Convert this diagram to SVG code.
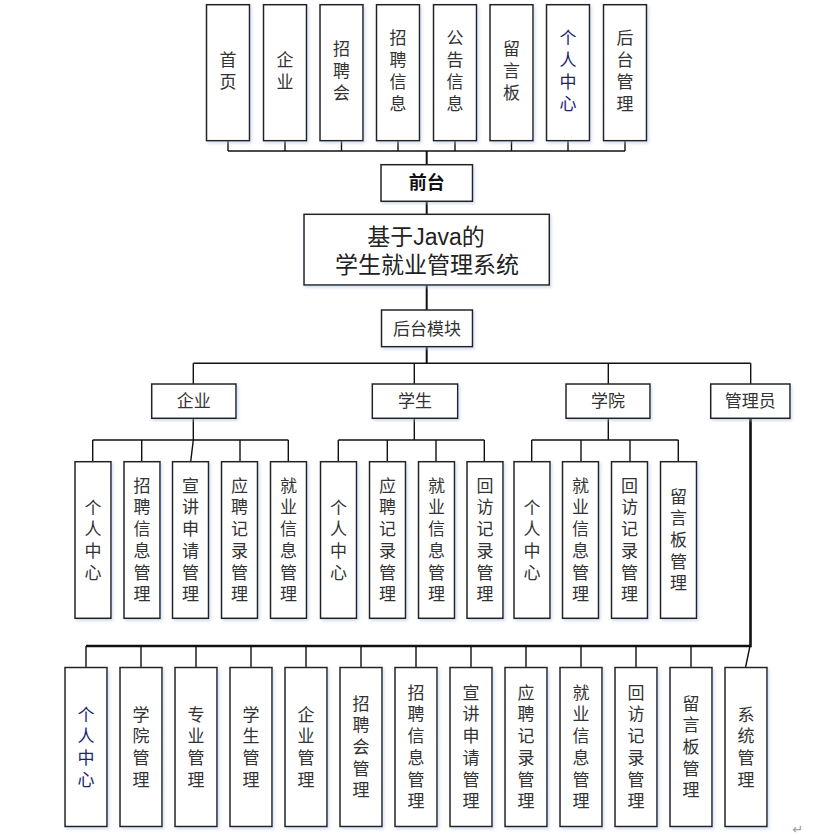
<svg xmlns="http://www.w3.org/2000/svg" width="833" height="836" viewBox="0 0 833 836">
<defs>
<filter id="sh" x="-20%" y="-10%" width="140%" height="120%">
<feDropShadow dx="1.5" dy="2" stdDeviation="1.5" flood-color="#9fb6e0" flood-opacity="0.45"/>
</filter>
<style>
.b{fill:#fff;stroke:#222;stroke-width:1.5;filter:url(#sh)}
.c{fill:none;stroke:#111;stroke-width:1.4}
.t{font-family:"Liberation Sans","Noto Sans CJK SC",sans-serif;font-size:17px;fill:#333;text-anchor:middle}
.n{fill:#1c2470}
.q{font-weight:bold;font-size:18px;fill:#111}
.big{font-size:23px;fill:#222}
</style>
</defs>
<rect width="833" height="836" fill="#fff"/>
<g id="connectors">
<path class="c" d="M228 140.7V151M285 140.7V151M341.5 140.7V151M398 140.7V151M455 140.7V151M511.5 140.7V151M568 140.7V151M625 140.7V151M228 151H625"/>
<path class="c" style="stroke-width:2" d="M426.7 151V164.7M426.7 201.3V214.3M426.7 285V310M426.7 346.7V363.3"/>
<path class="c" d="M193.3 363.3H750.7M193.3 363.3V384M414.3 363.3V384M608.3 363.3V384M750.7 363.3V384"/>
<path class="c" d="M193.3 418.3V440M92.7 440H288.3M92.7 440V461.7M141.7 440V461.7M193.3 440L190.7 461.7M240 440V461.7M288.3 440V461.7"/>
<path class="c" d="M414.3 418.3V440M338.3 440H484.3M338.3 440V461.7M387.3 440V461.7M436 440V461.7M484.3 440V461.7"/>
<path class="c" d="M608.3 418.3V440M531.7 440H678.3M531.7 440V461.7M581 440V461.7M630 440V461.7M678.3 440V461.7"/>
<path class="c" style="stroke-width:2.6" d="M750.5 418.3V646H86"/>
<path class="c" d="M86 646V667.5M141 646V667.5M196 646V667.5M251 646V667.5M306 646V667.5M361 646V667.5M416 646V667.5M471 646V667.5M526 646V667.5M581 646V667.5M636 646V667.5M691 646V667.5M750 646L745.5 667.5"/>
</g>
<g id="top-nodes">
<g id="n-shouye"><rect class="b" x="206.5" y="4.7" width="43" height="136"/><text class="t" y="66.2"><tspan x="228">首</tspan><tspan x="228" dy="21.7">页</tspan></text></g>
<g id="n-qiye"><rect class="b" x="263.5" y="4.7" width="43" height="136"/><text class="t" y="66.2"><tspan x="285">企</tspan><tspan x="285" dy="21.7">业</tspan></text></g>
<g id="n-zhaopinhui"><rect class="b" x="320" y="4.7" width="43" height="136"/><text class="t" y="55.3"><tspan x="341.5">招</tspan><tspan x="341.5" dy="21.7">聘</tspan><tspan x="341.5" dy="21.7">会</tspan></text></g>
<g id="n-zhaopinxinxi"><rect class="b" x="376.5" y="4.7" width="43" height="136"/><text class="t" y="44.4"><tspan x="398">招</tspan><tspan x="398" dy="21.7">聘</tspan><tspan x="398" dy="21.7">信</tspan><tspan x="398" dy="21.7">息</tspan></text></g>
<g id="n-gonggao"><rect class="b" x="433.5" y="4.7" width="43" height="136"/><text class="t" y="44.4"><tspan x="455">公</tspan><tspan x="455" dy="21.7">告</tspan><tspan x="455" dy="21.7">信</tspan><tspan x="455" dy="21.7">息</tspan></text></g>
<g id="n-liuyan"><rect class="b" x="490" y="4.7" width="43" height="136"/><text class="t" y="55.3"><tspan x="511.5">留</tspan><tspan x="511.5" dy="21.7">言</tspan><tspan x="511.5" dy="21.7">板</tspan></text></g>
<g id="n-geren"><rect class="b" x="546.5" y="4.7" width="43" height="136"/><text class="t n" y="44.4"><tspan x="568">个</tspan><tspan x="568" dy="21.7">人</tspan><tspan x="568" dy="21.7">中</tspan><tspan x="568" dy="21.7">心</tspan></text></g>
<g id="n-houtai"><rect class="b" x="603.5" y="4.7" width="43" height="136"/><text class="t" y="44.4"><tspan x="625">后</tspan><tspan x="625" dy="21.7">台</tspan><tspan x="625" dy="21.7">管</tspan><tspan x="625" dy="21.7">理</tspan></text></g>
</g>
<g id="n-qiantai"><rect class="b" x="381" y="164.7" width="91.5" height="36.6"/><text class="t q" x="426.7" y="189">前台</text></g>
<g id="n-title"><rect class="b" x="304" y="214.3" width="245.3" height="70.7"/><text class="t big" x="426" y="244.5">基于Java的</text><text class="t big" x="427" y="273">学生就业管理系统</text></g>
<g id="n-houtaimokuai"><rect class="b" x="381.5" y="310" width="91" height="36.7"/><text class="t" x="427" y="334.5">后台模块</text></g>
<g id="roles">
<g id="n-r-qiye"><rect class="b" x="151.7" y="384" width="84.3" height="34.3"/><text class="t" x="193.8" y="407">企业</text></g>
<g id="n-r-xuesheng"><rect class="b" x="372.3" y="384" width="85.4" height="34.3"/><text class="t" x="415" y="407">学生</text></g>
<g id="n-r-xueyuan"><rect class="b" x="566" y="384" width="84" height="34.3"/><text class="t" x="608" y="407">学院</text></g>
<g id="n-r-admin"><rect class="b" x="710.7" y="384" width="79.3" height="34.3"/><text class="t" x="750.3" y="407">管理员</text></g>
</g>
<g id="mid-nodes">
<g id="q1"><rect class="b" x="75" y="461.7" width="36" height="156.6"/><text class="t" y="513.5"><tspan x="93">个</tspan><tspan x="93" dy="21.7">人</tspan><tspan x="93" dy="21.7">中</tspan><tspan x="93" dy="21.7">心</tspan></text></g>
<g id="q2"><rect class="b" x="124" y="461.7" width="36" height="156.6"/><text class="t" y="491.7"><tspan x="142">招</tspan><tspan x="142" dy="21.7">聘</tspan><tspan x="142" dy="21.7">信</tspan><tspan x="142" dy="21.7">息</tspan><tspan x="142" dy="21.7">管</tspan><tspan x="142" dy="21.7">理</tspan></text></g>
<g id="q3"><rect class="b" x="172.5" y="461.7" width="36" height="156.6"/><text class="t" y="491.7"><tspan x="190.5">宣</tspan><tspan x="190.5" dy="21.7">讲</tspan><tspan x="190.5" dy="21.7">申</tspan><tspan x="190.5" dy="21.7">请</tspan><tspan x="190.5" dy="21.7">管</tspan><tspan x="190.5" dy="21.7">理</tspan></text></g>
<g id="q4"><rect class="b" x="221.5" y="461.7" width="36" height="156.6"/><text class="t" y="491.7"><tspan x="239.5">应</tspan><tspan x="239.5" dy="21.7">聘</tspan><tspan x="239.5" dy="21.7">记</tspan><tspan x="239.5" dy="21.7">录</tspan><tspan x="239.5" dy="21.7">管</tspan><tspan x="239.5" dy="21.7">理</tspan></text></g>
<g id="q5"><rect class="b" x="270.5" y="461.7" width="36" height="156.6"/><text class="t" y="491.7"><tspan x="288.5">就</tspan><tspan x="288.5" dy="21.7">业</tspan><tspan x="288.5" dy="21.7">信</tspan><tspan x="288.5" dy="21.7">息</tspan><tspan x="288.5" dy="21.7">管</tspan><tspan x="288.5" dy="21.7">理</tspan></text></g>
<g id="s1"><rect class="b" x="320.5" y="461.7" width="36" height="156.6"/><text class="t" y="513.5"><tspan x="338.5">个</tspan><tspan x="338.5" dy="21.7">人</tspan><tspan x="338.5" dy="21.7">中</tspan><tspan x="338.5" dy="21.7">心</tspan></text></g>
<g id="s2"><rect class="b" x="369.5" y="461.7" width="36" height="156.6"/><text class="t" y="491.7"><tspan x="387.5">应</tspan><tspan x="387.5" dy="21.7">聘</tspan><tspan x="387.5" dy="21.7">记</tspan><tspan x="387.5" dy="21.7">录</tspan><tspan x="387.5" dy="21.7">管</tspan><tspan x="387.5" dy="21.7">理</tspan></text></g>
<g id="s3"><rect class="b" x="418.5" y="461.7" width="36" height="156.6"/><text class="t" y="491.7"><tspan x="436.5">就</tspan><tspan x="436.5" dy="21.7">业</tspan><tspan x="436.5" dy="21.7">信</tspan><tspan x="436.5" dy="21.7">息</tspan><tspan x="436.5" dy="21.7">管</tspan><tspan x="436.5" dy="21.7">理</tspan></text></g>
<g id="s4"><rect class="b" x="467" y="461.7" width="36" height="156.6"/><text class="t" y="491.7"><tspan x="485">回</tspan><tspan x="485" dy="21.7">访</tspan><tspan x="485" dy="21.7">记</tspan><tspan x="485" dy="21.7">录</tspan><tspan x="485" dy="21.7">管</tspan><tspan x="485" dy="21.7">理</tspan></text></g>
<g id="y1"><rect class="b" x="514" y="461.7" width="36" height="156.6"/><text class="t" y="513.5"><tspan x="532">个</tspan><tspan x="532" dy="21.7">人</tspan><tspan x="532" dy="21.7">中</tspan><tspan x="532" dy="21.7">心</tspan></text></g>
<g id="y2"><rect class="b" x="562.5" y="461.7" width="36" height="156.6"/><text class="t" y="491.7"><tspan x="580.5">就</tspan><tspan x="580.5" dy="21.7">业</tspan><tspan x="580.5" dy="21.7">信</tspan><tspan x="580.5" dy="21.7">息</tspan><tspan x="580.5" dy="21.7">管</tspan><tspan x="580.5" dy="21.7">理</tspan></text></g>
<g id="y3"><rect class="b" x="611.5" y="461.7" width="36" height="156.6"/><text class="t" y="491.7"><tspan x="629.5">回</tspan><tspan x="629.5" dy="21.7">访</tspan><tspan x="629.5" dy="21.7">记</tspan><tspan x="629.5" dy="21.7">录</tspan><tspan x="629.5" dy="21.7">管</tspan><tspan x="629.5" dy="21.7">理</tspan></text></g>
<g id="y4"><rect class="b" x="660.5" y="461.7" width="36" height="156.6"/><text class="t" y="502.6"><tspan x="678.5">留</tspan><tspan x="678.5" dy="21.7">言</tspan><tspan x="678.5" dy="21.7">板</tspan><tspan x="678.5" dy="21.7">管</tspan><tspan x="678.5" dy="21.7">理</tspan></text></g>
</g>
<g id="admin-nodes">
<g id="a1"><rect class="b" x="65" y="667.5" width="42" height="159"/><text class="t n" y="720.5"><tspan x="86">个</tspan><tspan x="86" dy="21.7">人</tspan><tspan x="86" dy="21.7">中</tspan><tspan x="86" dy="21.7">心</tspan></text></g>
<g id="a2"><rect class="b" x="120" y="667.5" width="42" height="159"/><text class="t" y="720.5"><tspan x="141">学</tspan><tspan x="141" dy="21.7">院</tspan><tspan x="141" dy="21.7">管</tspan><tspan x="141" dy="21.7">理</tspan></text></g>
<g id="a3"><rect class="b" x="175" y="667.5" width="42" height="159"/><text class="t" y="720.5"><tspan x="196">专</tspan><tspan x="196" dy="21.7">业</tspan><tspan x="196" dy="21.7">管</tspan><tspan x="196" dy="21.7">理</tspan></text></g>
<g id="a4"><rect class="b" x="230" y="667.5" width="42" height="159"/><text class="t" y="720.5"><tspan x="251">学</tspan><tspan x="251" dy="21.7">生</tspan><tspan x="251" dy="21.7">管</tspan><tspan x="251" dy="21.7">理</tspan></text></g>
<g id="a5"><rect class="b" x="285" y="667.5" width="42" height="159"/><text class="t" y="720.5"><tspan x="306">企</tspan><tspan x="306" dy="21.7">业</tspan><tspan x="306" dy="21.7">管</tspan><tspan x="306" dy="21.7">理</tspan></text></g>
<g id="a6"><rect class="b" x="340" y="667.5" width="42" height="159"/><text class="t" y="709.6"><tspan x="361">招</tspan><tspan x="361" dy="21.7">聘</tspan><tspan x="361" dy="21.7">会</tspan><tspan x="361" dy="21.7">管</tspan><tspan x="361" dy="21.7">理</tspan></text></g>
<g id="a7"><rect class="b" x="395" y="667.5" width="42" height="159"/><text class="t" y="698.7"><tspan x="416">招</tspan><tspan x="416" dy="21.7">聘</tspan><tspan x="416" dy="21.7">信</tspan><tspan x="416" dy="21.7">息</tspan><tspan x="416" dy="21.7">管</tspan><tspan x="416" dy="21.7">理</tspan></text></g>
<g id="a8"><rect class="b" x="450" y="667.5" width="42" height="159"/><text class="t" y="698.7"><tspan x="471">宣</tspan><tspan x="471" dy="21.7">讲</tspan><tspan x="471" dy="21.7">申</tspan><tspan x="471" dy="21.7">请</tspan><tspan x="471" dy="21.7">管</tspan><tspan x="471" dy="21.7">理</tspan></text></g>
<g id="a9"><rect class="b" x="505" y="667.5" width="42" height="159"/><text class="t" y="698.7"><tspan x="526">应</tspan><tspan x="526" dy="21.7">聘</tspan><tspan x="526" dy="21.7">记</tspan><tspan x="526" dy="21.7">录</tspan><tspan x="526" dy="21.7">管</tspan><tspan x="526" dy="21.7">理</tspan></text></g>
<g id="a10"><rect class="b" x="560" y="667.5" width="42" height="159"/><text class="t" y="698.7"><tspan x="581">就</tspan><tspan x="581" dy="21.7">业</tspan><tspan x="581" dy="21.7">信</tspan><tspan x="581" dy="21.7">息</tspan><tspan x="581" dy="21.7">管</tspan><tspan x="581" dy="21.7">理</tspan></text></g>
<g id="a11"><rect class="b" x="615" y="667.5" width="42" height="159"/><text class="t" y="698.7"><tspan x="636">回</tspan><tspan x="636" dy="21.7">访</tspan><tspan x="636" dy="21.7">记</tspan><tspan x="636" dy="21.7">录</tspan><tspan x="636" dy="21.7">管</tspan><tspan x="636" dy="21.7">理</tspan></text></g>
<g id="a12"><rect class="b" x="670" y="667.5" width="42" height="159"/><text class="t" y="709.6"><tspan x="691">留</tspan><tspan x="691" dy="21.7">言</tspan><tspan x="691" dy="21.7">板</tspan><tspan x="691" dy="21.7">管</tspan><tspan x="691" dy="21.7">理</tspan></text></g>
<g id="a13"><rect class="b" x="725" y="667.5" width="42" height="159"/><text class="t" y="720.5"><tspan x="746">系</tspan><tspan x="746" dy="21.7">统</tspan><tspan x="746" dy="21.7">管</tspan><tspan x="746" dy="21.7">理</tspan></text></g>
</g>
<text x="798" y="834" font-family="DejaVu Sans, sans-serif" font-size="13" fill="#999" text-anchor="middle">↵</text>
</svg>
